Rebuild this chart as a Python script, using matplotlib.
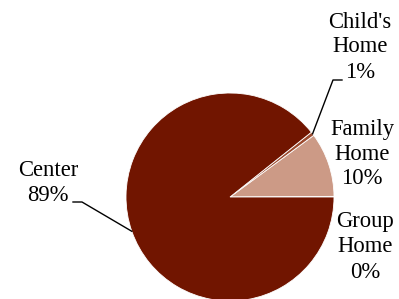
import numpy as np
import matplotlib.pyplot as plt

labels = ["Group\nHome", "Family\nHome", "Child's\nHome", "Center"]
values = [0.1, 10.0, 0.6, 89.3]
colors = ["#e8c9b8", "#cc9a86", "#9c4a2e", "#711500"]

fig = plt.figure(figsize=(3.99, 2.99), dpi=100)
ax = fig.add_axes([0, 0, 1, 1])

cx, cy, r = 230, 102, 104
wedges, _ = ax.pie(values, colors=colors, startangle=0, counterclock=True,
                   center=(cx, cy), radius=r, frame=True,
                   wedgeprops=dict(edgecolor="white", linewidth=0.6))
ax.set_xlim(0, 399)
ax.set_ylim(0, 299)
ax.set_aspect("equal")
ax.axis("off")

font = dict(family="Liberation Serif", fontsize=16.3, ha="center", va="center",
            linespacing=1.25)

# label positions (layout)
label_pos = {"Group\nHome": (365, 52), "Family\nHome": (362, 145),
             "Child's\nHome": (360, 252), "Center": (48, 116)}
elbows = {"Child's\nHome": [(333, 219), (342, 219)],
          "Center": [(82, 97), (73, 97)]}

for lab, val, w in zip(labels, values, wedges):
    pct = "%d%%" % round(val)
    x, y = label_pos[lab]
    ax.text(x, y, lab + "\n" + pct, **font)
    if lab in elbows:
        mid = np.deg2rad((w.theta1 + w.theta2) / 2)
        ex, ey = cx + r * np.cos(mid), cy + r * np.sin(mid)
        pts = [(ex, ey)] + elbows[lab]
        ax.plot([p[0] for p in pts], [p[1] for p in pts], color="black", lw=1)

fig.savefig("out.png", dpi=100)
